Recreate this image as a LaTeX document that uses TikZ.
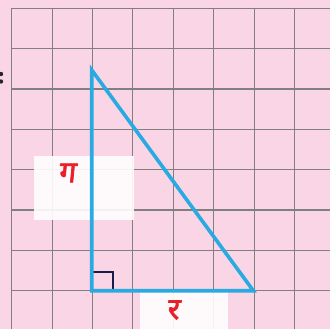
\documentclass[tikz,border=0pt]{standalone}
\usepackage{fontspec}
\newfontfamily\devfont[Script=Devanagari,FakeBold=2.5,FakeSlant=0.1]{Noto Sans}
\definecolor{bgpink}{HTML}{F9D5E5}
\definecolor{gridgray}{HTML}{808080}
\definecolor{triblue}{HTML}{29ABE2}
\definecolor{marknavy}{HTML}{1B1B4B}
\definecolor{labred}{HTML}{E8202A}
\tikzset{
  gridline/.style={draw=gridgray, line width=1.1pt},
  labelbox/.style={fill=white, fill opacity=0.9, draw=none},
  legline/.style={draw=triblue, line width=3.6pt, line join=miter},
  anglemark/.style={draw=marknavy, line width=1.9pt},
  redlabel/.style={text=labred, font=\devfont\fontsize{30}{30}\selectfont, inner sep=0pt}
}
\begin{document}
\begin{tikzpicture}[x=1pt,y=-1pt]
\useasboundingbox (0,0) rectangle (330,329);
\fill[bgpink] (0,0) rectangle (330,329);
% grid
\foreach \i in {0,...,7} {
  \draw[gridline] ({11.7+40.4*\i},8.3) -- ({11.7+40.4*\i},329);
  \draw[gridline] (11.7,{8.3+40.34*\i}) -- (330,{8.3+40.34*\i});
}
% colon dots
\fill[black!85] (1,74) circle (2.2);
\fill[black!85] (1,81.5) circle (2.2);
% label boxes
\path[labelbox] (34,156) rectangle (134.3,220);
\path[labelbox] (140,291.7) rectangle (228.3,329);
% triangle
\coordinate (A) at (91.7,70);
\coordinate (B) at (91.7,290.7);
\coordinate (C) at (253.3,290.7);
\draw[anglemark] (B) ++(0,-19) coordinate (M1) -- ++(21.5,0) coordinate (M2) -- ++(0,19);
\draw[legline] (A) -- (B) -- (C) -- cycle;
% labels
\node[redlabel] (lv) at (67,173) {ग};
\node[redlabel] (lh) at (173,310) {र};
\end{tikzpicture}
\end{document}
